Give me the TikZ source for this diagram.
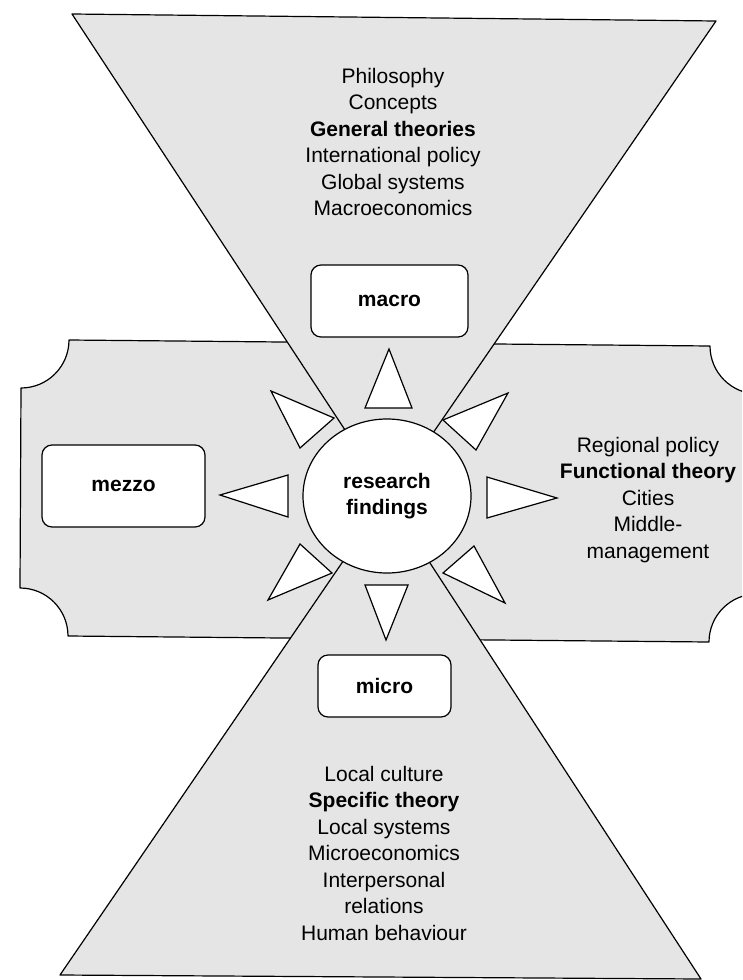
\documentclass[tikz,border=0pt]{standalone}
\usepackage{fontspec}
\setmainfont{Liberation Sans}
\usetikzlibrary{shapes.geometric}
\tikzset{
  zone/.style={fill=black!10, draw=black, line width=1.2pt, line join=round},
  labelbox/.style={draw, line width=1.2pt, fill=white, rounded corners=10pt,
    inner sep=0pt, font=\bfseries\fontsize{21}{26}\selectfont},
  hub/.style={draw, ellipse, line width=1.2pt, fill=white, inner sep=0pt,
    align=center, font=\bfseries\fontsize{21}{26}\selectfont},
  spike/.style={draw, line width=1.2pt, fill=white, line join=miter},
  listtext/.style={align=center, inner sep=0pt, font=\fontsize{21}{26.5}\selectfont},
}
\begin{document}
\begin{tikzpicture}[x=1pt,y=1pt]
\useasboundingbox (0,0) rectangle (742,-980);
\clip (0,0) rectangle (742,-980);
% horizontal band with concave corners
\draw[zone] (21,-388) arc[start angle=270, end angle=360, radius=48]
  -- (710,-346) arc[start angle=180, end angle=270, radius=48]
  -- (757,-594) arc[start angle=90, end angle=180, radius=48]
  -- (68,-636) arc[start angle=0, end angle=90, radius=48]
  -- cycle;
% upper and lower triangles
\draw[zone] (72,-14) -- (716,-21) -- (389,-497) -- cycle;
\draw[zone] (387,-497) -- (60,-975) -- (701,-979) -- cycle;
% central ellipse
\node[hub, minimum width=168pt, minimum height=154pt] (rf) at (387,-496) {research\\findings};
% label boxes
\node[labelbox, minimum width=157pt, minimum height=72pt] (macro) at (389.5,-301) {macro};
\node[labelbox, minimum width=163pt, minimum height=82pt] (mezzo) at (123.5,-486) {mezzo};
\node[labelbox, minimum width=133pt, minimum height=62pt] (micro) at (384.5,-686) {micro};
% spikes around the hub
\draw[spike] (365,-408) -- (389,-349) -- (412,-408) -- cycle;
\draw[spike] (334,-418) -- (271,-391) -- (300,-448) -- cycle;
\draw[spike] (443,-420) -- (508,-393) -- (476,-450) -- cycle;
\draw[spike] (288,-475) -- (220,-495) -- (288,-517) -- cycle;
\draw[spike] (487,-477) -- (557,-498) -- (487,-518) -- cycle;
\draw[spike] (300,-544) -- (268,-600) -- (332,-573) -- cycle;
\draw[spike] (474,-546) -- (505,-603) -- (443,-573) -- cycle;
\draw[spike] (365,-585) -- (386,-640) -- (408,-585) -- cycle;
% text lists
\node[listtext] (macrolist) at (393,-142) {Philosophy\\Concepts\\\textbf{General theories}\\International policy\\Global systems\\Macroeconomics};
\node[listtext] (mezzolist) at (648,-500) {Regional policy\\\textbf{Functional theory}\\Cities\\Middle-\\management};
\node[listtext] (microlist) at (384,-853) {Local culture\\\textbf{Specific theory}\\Local systems\\Microeconomics\\Interpersonal\\relations\\Human behaviour};
\end{tikzpicture}
\end{document}
